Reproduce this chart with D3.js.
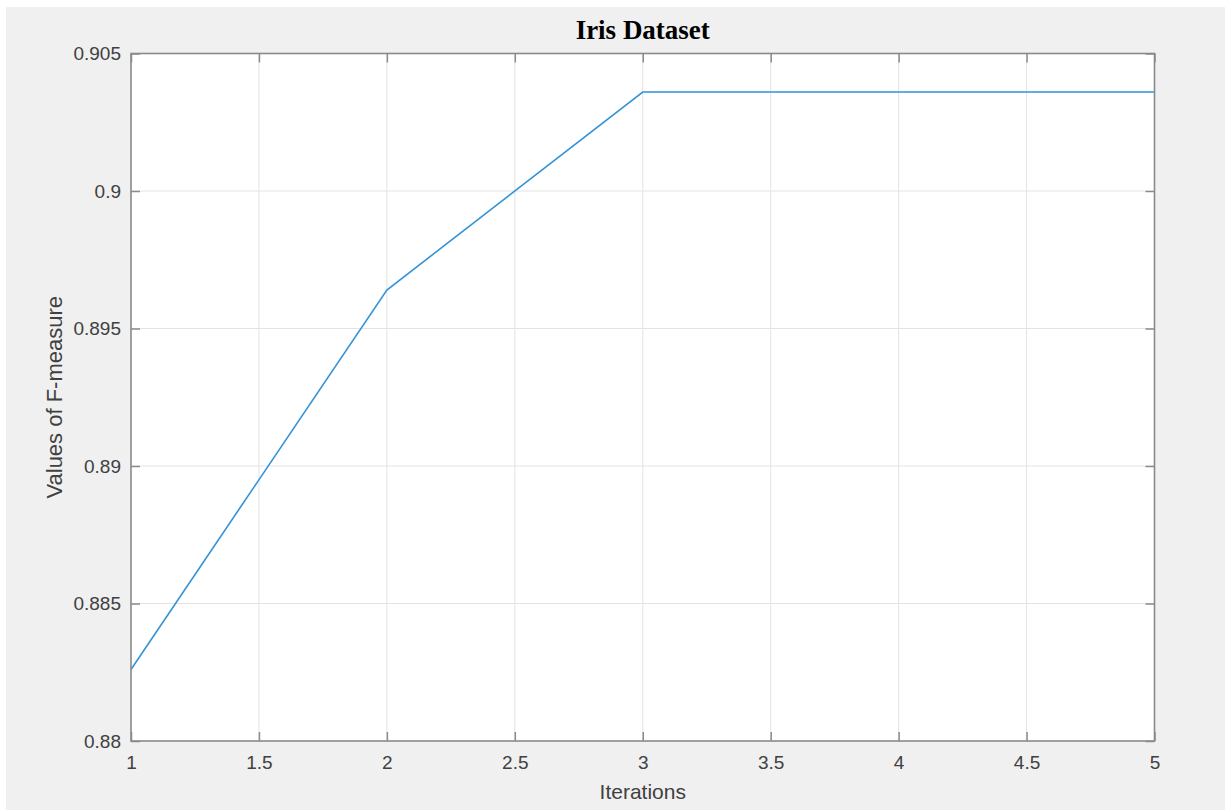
<!DOCTYPE html>
<html>
<head>
<meta charset="utf-8">
<script src="https://cdn.jsdelivr.net/npm/d3@7"></script>
<style>
  html, body { margin: 0; padding: 0; background: #ffffff; }
  svg { display: block; }
</style>
</head>
<body>
<svg id="chart" width="1225" height="811"></svg>
<script>
// F-measure per iteration on the Iris dataset
const iterations = [1, 2, 3, 4, 5];
const fMeasure = [0.8826, 0.8964, 0.9036, 0.9036, 0.9036];
const xTicks = [1, 1.5, 2, 2.5, 3, 3.5, 4, 4.5, 5];
const yTicks = [0.88, 0.885, 0.89, 0.895, 0.9, 0.905];
const yTickLabels = ["0.88", "0.885", "0.89", "0.895", "0.9", "0.905"];

const W = 1225, H = 811;
const plot = { left: 131, right: 1154.5, top: 53.5, bottom: 741 };

const svg = d3.select("#chart");

// figure background
svg.append("rect").attr("x", 6).attr("y", 7).attr("width", W - 6).attr("height", H - 8)
  .attr("fill", "#f0f0f0");

const x = d3.scaleLinear().domain([1, 5]).range([plot.left, plot.right]);
const y = d3.scaleLinear().domain([0.88, 0.905]).range([plot.bottom, plot.top]);

// axes background
svg.append("rect")
  .attr("x", plot.left).attr("y", plot.top)
  .attr("width", plot.right - plot.left).attr("height", plot.bottom - plot.top)
  .attr("fill", "#ffffff");

// grid
const grid = svg.append("g").attr("stroke", "#e3e3e3").attr("stroke-width", 1);
grid.selectAll("line.vx").data(xTicks.slice(1, -1)).join("line")
  .attr("x1", d => x(d)).attr("x2", d => x(d))
  .attr("y1", plot.top).attr("y2", plot.bottom);
grid.selectAll("line.hy").data(yTicks.slice(1, -1)).join("line")
  .attr("x1", plot.left).attr("x2", plot.right)
  .attr("y1", d => y(d)).attr("y2", d => y(d));

// data line
const line = d3.line().x((d, i) => x(iterations[i])).y(d => y(d));
svg.append("path")
  .datum(fMeasure)
  .attr("d", line)
  .attr("fill", "none")
  .attr("stroke", "#3393d6")
  .attr("stroke-width", 1.6);

const tickLen = 9;
const axisColor = "#8a8a8a";
const fontTick = "'Liberation Sans', Arial, sans-serif";

// bottom axis with inward ticks, labels below
const xAxis = d3.axisBottom(x).tickValues(xTicks).tickSize(-tickLen).tickPadding(15)
  .tickFormat(d3.format("~g"));
const gx = svg.append("g").attr("transform", `translate(0,${plot.bottom})`).call(xAxis);
// top axis ticks only
const gxt = svg.append("g").attr("transform", `translate(0,${plot.top})`)
  .call(d3.axisTop(x).tickValues(xTicks).tickSize(-tickLen).tickFormat(""));
// left axis
const yAxis = d3.axisLeft(y).tickValues(yTicks).tickSize(-tickLen).tickPadding(10)
  .tickFormat((d, i) => yTickLabels[i]);
const gy = svg.append("g").attr("transform", `translate(${plot.left},0)`).call(yAxis);
// right axis ticks only
const gyr = svg.append("g").attr("transform", `translate(${plot.right},0)`)
  .call(d3.axisRight(y).tickValues(yTicks).tickSize(-tickLen).tickFormat(""));

[gx, gxt, gy, gyr].forEach(g => {
  g.select(".domain").remove();
  g.selectAll(".tick line").attr("stroke", axisColor).attr("stroke-width", 1.5);
  g.selectAll(".tick text")
    .attr("fill", "#404040")
    .style("font-family", fontTick)
    .style("font-size", "19px");
});

// axes box
svg.append("rect")
  .attr("x", plot.left).attr("y", plot.top)
  .attr("width", plot.right - plot.left).attr("height", plot.bottom - plot.top)
  .attr("fill", "none").attr("stroke", axisColor).attr("stroke-width", 1.6);

// title
svg.append("text")
  .attr("x", (plot.left + plot.right) / 2).attr("y", 39)
  .attr("text-anchor", "middle")
  .style("font-family", "'Liberation Serif', 'Times New Roman', serif")
  .style("font-weight", "bold")
  .style("font-size", "27px")
  .attr("fill", "#000000")
  .text("Iris Dataset");

// axis labels
svg.append("text")
  .attr("x", (plot.left + plot.right) / 2).attr("y", 799)
  .attr("text-anchor", "middle")
  .style("font-family", fontTick)
  .style("font-size", "21px")
  .attr("fill", "#404040")
  .text("Iterations");

svg.append("text")
  .attr("transform", `translate(62,${(plot.top + plot.bottom) / 2}) rotate(-90)`)
  .attr("text-anchor", "middle")
  .style("font-family", fontTick)
  .style("font-size", "22px")
  .attr("fill", "#404040")
  .text("Values of F-measure");
</script>
</body>
</html>
